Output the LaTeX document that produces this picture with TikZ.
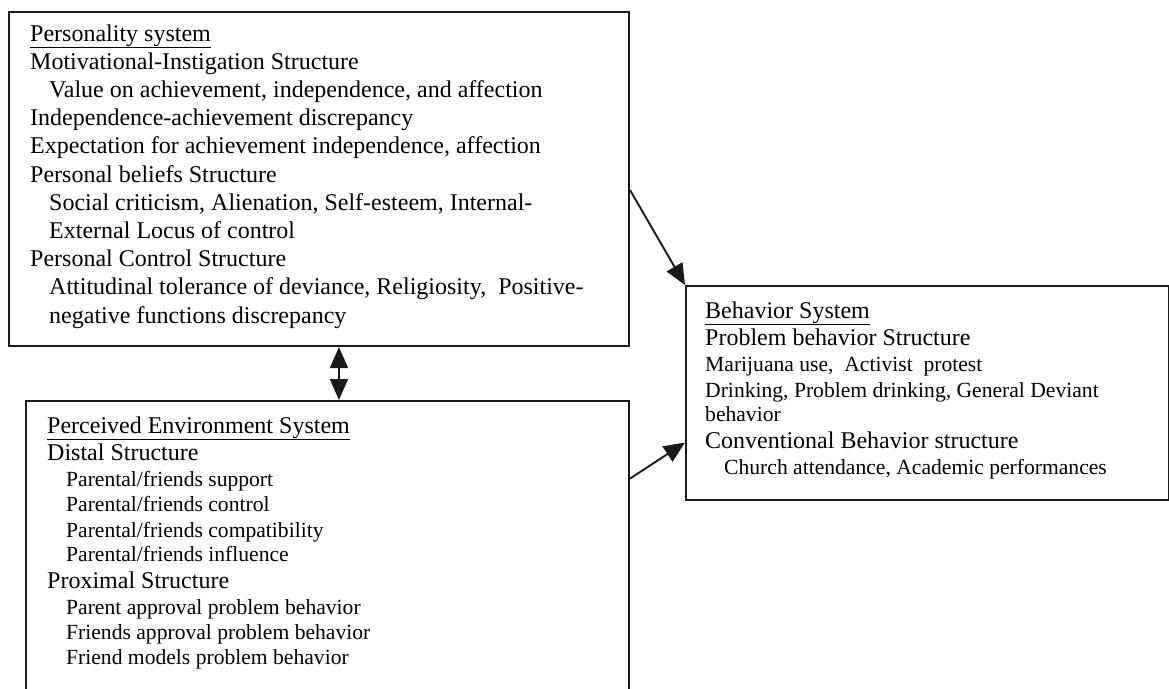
\documentclass[tikz,border=0pt]{standalone}
\usepackage{fontspec}
\setmainfont{Liberation Serif}
\usetikzlibrary{arrows.meta,calc}
\begin{document}
\begin{tikzpicture}[x=1pt,y=-1pt,
  box/.style={draw=black!90,line width=2.1pt,rectangle,inner sep=0pt,anchor=north west},
  big/.style={anchor=base west,inner sep=0pt,font=\fontsize{24}{28}\selectfont,text=black},
  small/.style={anchor=base west,inner sep=0pt,font=\fontsize{21.6}{25}\selectfont,text=black},
  arr/.style={draw=black!90,line width=1.9pt,-{Triangle[length=21pt,width=18pt]}},
  darr/.style={draw=black!90,line width=1.9pt,{Triangle[length=21pt,width=18pt]}-{Triangle[length=21pt,width=18pt]}}]
\useasboundingbox (0,0) rectangle (1169,688);
\fill[white] (0,0) rectangle (1169,688);
% boxes
\node[box,minimum width=620pt,minimum height=334pt] (pers) at (8,11) {};
\begin{scope}
\clip (0,0) rectangle (1169,688);
\node[box,minimum width=603pt,minimum height=300pt] (env) at (25,400) {};
\end{scope}
\node[box,minimum width=483pt,minimum height=214pt] (beh) at (685,285) {};
% personality text
\node[big] (p0) at (30,41) {\underline{Personality system}};
\node[big] (p1) at (30,69.2) {Motivational-Instigation Structure};
\node[big] (p2) at (49,97.4) {Value on achievement, independence, and affection};
\node[big] (p3) at (30,125.6) {Independence-achievement discrepancy};
\node[big] (p4) at (30,153.8) {Expectation for achievement independence, affection};
\node[big] (p5) at (30,182) {Personal beliefs Structure};
\node[big] (p6) at (49,210.2) {Social criticism, Alienation, Self-esteem, Internal-};
\node[big] (p7) at (49,238.4) {External Locus of control};
\node[big] (p8) at (30,266.6) {Personal Control Structure};
\node[big] (p9) at (49,294.8) {Attitudinal tolerance of deviance, Religiosity,\ \ Positive-};
\node[big] (p10) at (49,323) {negative functions discrepancy};
% environment text
\node[big] (e0) at (47,433) {\underline{Perceived Environment System}};
\node[big] (e1) at (47,460) {Distal Structure};
\node[small] (e2) at (66,486) {Parental/friends support};
\node[small] (e3) at (66,511) {Parental/friends control};
\node[small] (e4) at (66,537) {Parental/friends compatibility};
\node[small] (e5) at (66,561) {Parental/friends influence};
\node[big] (e6) at (47,588) {Proximal Structure};
\node[small] (e7) at (66,614) {Parent approval problem behavior};
\node[small] (e8) at (66,639) {Friends approval problem behavior};
\node[small] (e9) at (66,664) {Friend models problem behavior};
% behavior text
\node[big] (b0) at (705,318) {\underline{Behavior System}};
\node[big] (b1) at (705,345) {Problem behavior Structure};
\node[small] (b2) at (705,371) {Marijuana use,\ \ Activist\ \ protest};
\node[small] (b3) at (705,397) {Drinking, Problem drinking, General Deviant};
\node[small] (b4) at (705,421) {behavior};
\node[big] (b5) at (705,448) {Conventional Behavior structure};
\node[small] (b6) at (724,474) {Church attendance, Academic performances};
% connectors
\coordinate (d1) at ($(pers.south west)!0.532!(pers.south east)$);
\draw[darr] (d1) -- (d1 |- env.north);
\draw[arr] ($(pers.north east)!0.533!(pers.south east)$) -- (beh.north west);
\draw[arr] ($(env.north east)!0.26!(env.south east)$) -- ($(beh.north west)!0.729!(beh.south west)$);
\end{tikzpicture}
\end{document}
